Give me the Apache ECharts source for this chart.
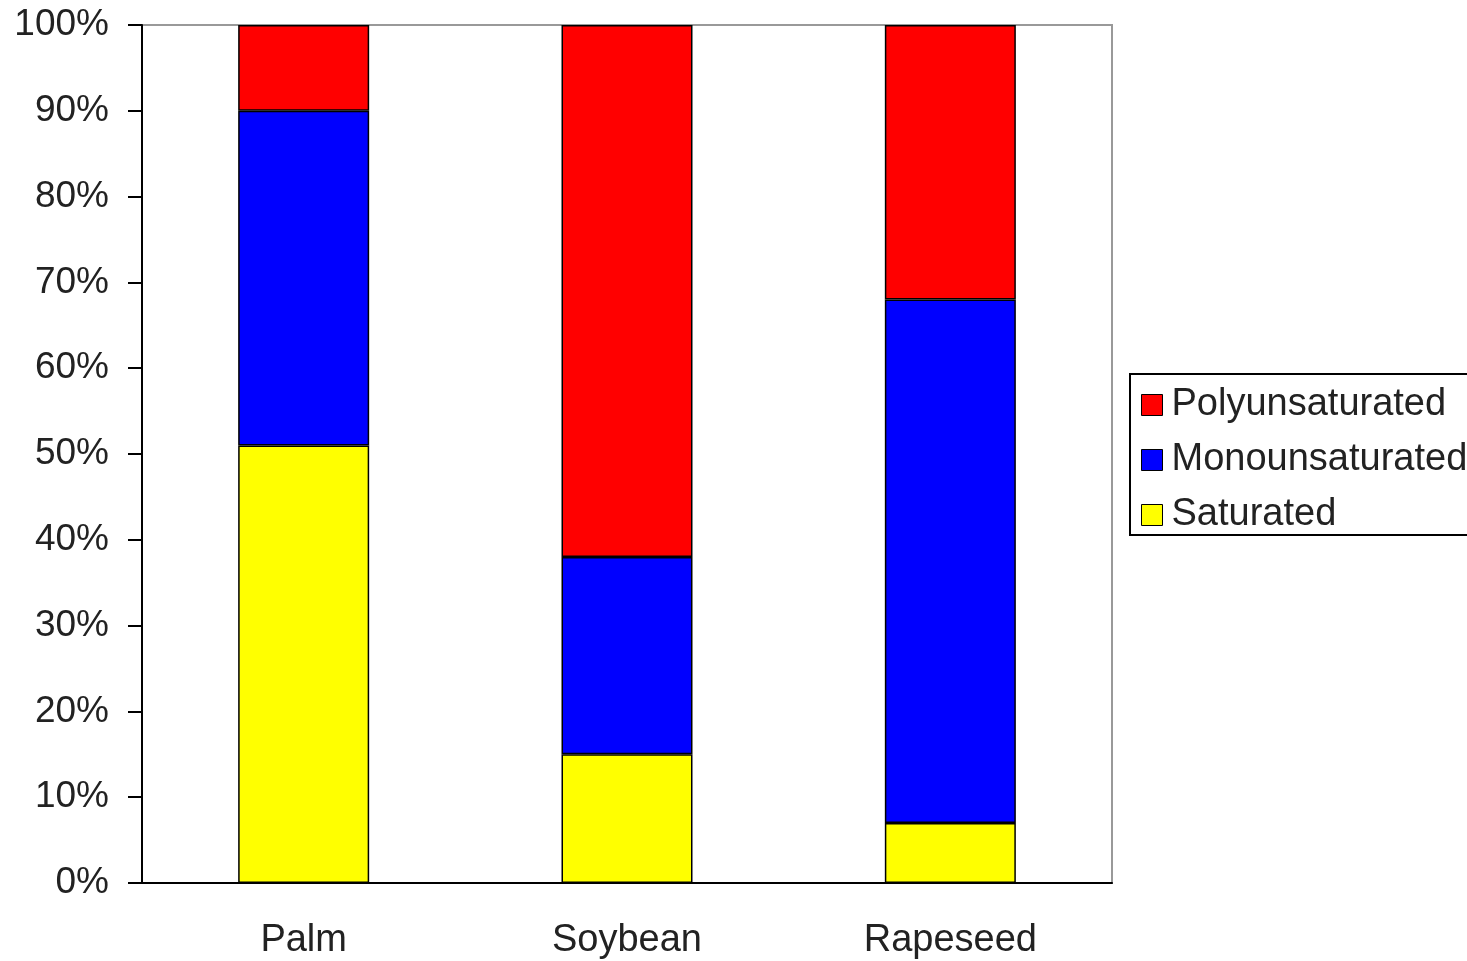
<!DOCTYPE html>
<html>
<head>
<meta charset="utf-8">
<script src="https://cdn.jsdelivr.net/npm/echarts@6/dist/echarts.min.js"></script>
<style>
  html, body { margin: 0; padding: 0; background: #fff; }
  #chart { width: 1467px; height: 961px; }
</style>
</head>
<body>
<div id="chart"></div>
<script>
// Fatty acid composition of vegetable oils (% of total)
const categories = ['Palm', 'Soybean', 'Rapeseed'];
const saturated = [51, 15, 7];
const monounsaturated = [39, 23, 61];
const polyunsaturated = [10, 62, 32];
const yTicks = { min: 0, max: 100, interval: 10 };

const font = 'Liberation Sans, Arial, sans-serif';
const textColor = '#222';

function barSeries(name, data, color) {
  return {
    name: name,
    type: 'bar',
    stack: 'total',
    data: data,
    barWidth: 131,
    itemStyle: { color: color, borderColor: '#000', borderWidth: 1.5 }
  };
}

const chart = echarts.init(document.getElementById('chart'), null, { renderer: 'canvas' });
chart.setOption({
  animation: false,
  backgroundColor: '#fff',
  grid: {
    left: 142, right: 355, top: 25, bottom: 78,
    show: true, borderColor: '#999', borderWidth: 2, backgroundColor: 'transparent'
  },
  legend: {
    orient: 'vertical',
    left: 1130,
    top: 374,
    padding: [12, 40, 1, 11],
    itemGap: 17,
    itemWidth: 21,
    itemHeight: 21,
    borderColor: '#000',
    borderWidth: 2,
    icon: 'rect',
    itemStyle: { borderColor: '#000', borderWidth: 1 },
    textStyle: { fontFamily: font, fontSize: 38, color: textColor, lineHeight: 36, padding: [0, 0, 0, 4] },
    data: ['Polyunsaturated', 'Monounsaturated', 'Saturated']
  },
  xAxis: {
    type: 'category',
    data: categories,
    axisLine: { lineStyle: { color: '#000', width: 2 } },
    axisTick: { length: 13, lineStyle: { color: '#000', width: 2 } },
    axisLabel: { fontFamily: font, fontSize: 38, color: textColor, margin: 39 }
  },
  yAxis: {
    type: 'value',
    min: yTicks.min,
    max: yTicks.max,
    interval: yTicks.interval,
    axisLine: { show: true, lineStyle: { color: '#000', width: 2 } },
    axisTick: { show: true, length: 14, lineStyle: { color: '#000', width: 2 } },
    splitLine: { show: false },
    axisLabel: { fontFamily: font, fontSize: 37, color: textColor, margin: 33, formatter: '{value}%' }
  },
  series: [
    barSeries('Saturated', saturated, '#ffff00'),
    barSeries('Monounsaturated', monounsaturated, '#0000ff'),
    barSeries('Polyunsaturated', polyunsaturated, '#ff0000')
  ]
});
</script>
</body>
</html>
